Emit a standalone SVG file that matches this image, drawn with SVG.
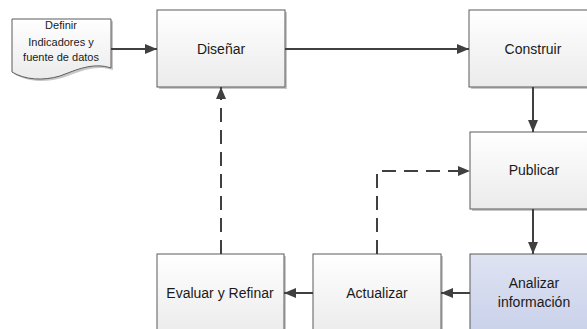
<svg xmlns="http://www.w3.org/2000/svg" width="587" height="329" viewBox="0 0 587 329">
<defs>
<linearGradient id="gGray" x1="0" y1="0" x2="0" y2="1"><stop offset="0" stop-color="#ffffff"/><stop offset="1" stop-color="#ebebeb"/></linearGradient>
<linearGradient id="gBlue" x1="0" y1="0" x2="0" y2="1"><stop offset="0" stop-color="#dfe3f2"/><stop offset="1" stop-color="#c9d1ea"/></linearGradient>
<marker id="ah" markerWidth="12" markerHeight="10" refX="12" refY="5" orient="auto" markerUnits="userSpaceOnUse"><path d="M0,0 L12,5 L0,10 Z" fill="#404040"/></marker>
</defs>
<style>
.box{fill:url(#gGray);stroke:#5a5a5a;stroke-width:1}
.blue{fill:url(#gBlue);stroke:#5a5a5a;stroke-width:1}
.sh{fill:#c8c8c8}
.t{font-family:"Liberation Sans",Arial,sans-serif;font-size:14px;fill:#1a1a1a;text-anchor:middle}
.ts{font-family:"Liberation Sans",Arial,sans-serif;font-size:11px;fill:#1a1a1a;text-anchor:middle}
.c{fill:none;stroke:#404040;stroke-width:2;marker-end:url(#ah)}
.d{stroke-dasharray:14,8}
</style>
<rect width="587" height="329" fill="#ffffff"/>
<g id="n-definir">
<path d="M14,21 H113 V70 C95,64 78,72 62,78 C45,83 27,82 14,74 Z" class="sh"/>
<path d="M12,19 H111 V68 C93,62 76,70 60,76 C43,81 25,80 12,72 Z" class="box"/>
<text class="ts" x="61" y="29">Definir</text>
<text class="ts" x="61" y="46">Indicadores y</text>
<text class="ts" x="61" y="61">fuente de datos</text>
</g>
<g id="n-disenar">
<rect x="159" y="12" width="128" height="77" class="sh"/>
<rect x="157" y="10" width="128" height="77" class="box"/>
<text class="t" x="221" y="54">Diseñar</text>
</g>
<g id="n-construir">
<rect x="471" y="12" width="128" height="77" class="sh"/>
<rect x="469" y="10" width="128" height="77" class="box"/>
<text class="t" x="533" y="54">Construir</text>
</g>
<g id="n-publicar">
<rect x="472" y="134" width="128" height="77" class="sh"/>
<rect x="470" y="132" width="128" height="77" class="box"/>
<text class="t" x="534" y="175">Publicar</text>
</g>
<g id="n-analizar">
<rect x="470" y="254" width="128" height="80" class="blue"/>
<text class="t" x="534" y="288">Analizar</text>
<text class="t" x="534" y="307">información</text>
</g>
<g id="n-actualizar">
<rect x="315" y="256" width="128" height="80" class="sh"/>
<rect x="313" y="254" width="128" height="80" class="box"/>
<text class="t" x="377" y="298">Actualizar</text>
</g>
<g id="n-evaluar">
<rect x="159" y="256" width="127" height="80" class="sh"/>
<rect x="157" y="254" width="127" height="80" class="box"/>
<text class="t" x="220" y="298">Evaluar y Refinar</text>
</g>
<g id="connectors">
<path class="c" d="M111,49 H157"/>
<path class="c" d="M285,49 H469"/>
<path class="c" d="M533,87 V132"/>
<path class="c" d="M533,209 V254"/>
<path class="c" d="M470,293 H441"/>
<path class="c" d="M313,293 H284"/>
<path class="c d" d="M377,254 V171 H470"/>
<path class="c d" d="M221,254 V87"/>
</g>
</svg>
